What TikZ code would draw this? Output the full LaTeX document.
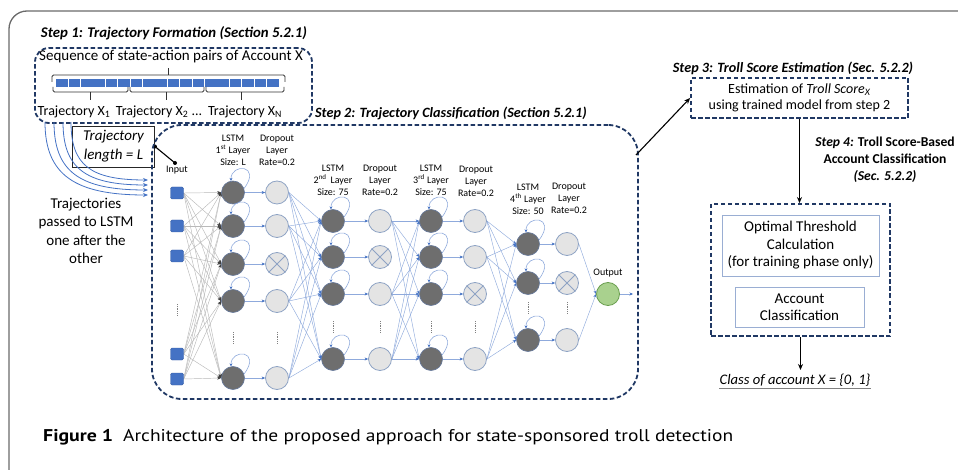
\documentclass[tikz,border=0pt]{standalone}
\usepackage{fontspec}
\setmainfont{Carlito}
\newfontfamily\capfont{PT Sans}
\usetikzlibrary{arrows.meta,calc}
\definecolor{navy}{HTML}{203864}
\definecolor{ofblue}{HTML}{4472C4}
\definecolor{lblue}{HTML}{8FAADC}
\definecolor{lstmfill}{HTML}{6E6E6E}
\definecolor{dropfill}{HTML}{E4E4E4}
\definecolor{dropborder}{HTML}{8EA3C4}
\definecolor{greenfill}{HTML}{A9D18E}
\definecolor{greenborder}{HTML}{6A9E4F}
\definecolor{framegray}{HTML}{6A6A6A}
\definecolor{innerbox}{HTML}{9AAED3}
\pgfdeclarelayer{bg}
\pgfsetlayers{bg,main}
\begin{document}
\begin{tikzpicture}[x=1pt,y=-1pt]
\tikzset{
 dashbox/.style={draw=navy, line width=1.8pt, dash pattern=on 4.5pt off 2.5pt},
 lstm/.style={circle, draw=lblue!70!black, line width=0.6pt, fill=lstmfill, minimum size=23pt, inner sep=0pt},
 drop/.style={circle, draw=dropborder, line width=0.8pt, fill=dropfill, minimum size=23pt, inner sep=0pt},
 inp/.style={rectangle, rounded corners=1.5pt, draw=ofblue!85!black, fill=ofblue, minimum width=13pt, minimum height=12pt, inner sep=0pt},
 outn/.style={circle, draw=greenborder, line width=0.8pt, fill=greenfill, minimum size=23pt, inner sep=0pt},
 gedge/.style={draw=gray!55, line width=0.45pt, -{Stealth[length=4pt,width=3pt,color=darkgray]}},
 bedge/.style={draw=lblue, line width=0.45pt, -{Stealth[length=3.5pt,width=3pt,color=ofblue]}},
 loopst/.style={draw=lblue, line width=0.6pt, -{Stealth[length=3pt,width=3pt,color=ofblue]}},
 lbl/.style={align=center, font=\fontsize{10}{12}\selectfont, inner sep=0pt},
 dotcol/.style={draw=gray, line width=0.9pt, dash pattern=on 0.7pt off 1.1pt},
 blk/.style={draw=black, line width=1.1pt, -{Stealth[length=6pt,width=5pt]}},
 curv/.style={draw=ofblue, line width=0.8pt, -{Stealth[length=5pt,width=4pt]}},
 brk/.style={draw=black!80, line width=0.8pt, rounded corners=1.5pt},
 ttl/.style={font=\fontsize{14.2}{16}\selectfont\bfseries\itshape, inner sep=0pt},
 dotend/.style={circle, fill=black, inner sep=0pt, minimum size=4pt},
 trj/.style={font=\fontsize{14}{17}\selectfont, inner sep=0pt},
}
\useasboundingbox (0,0) rectangle (958,470);
% outer frame
\draw[framegray, line width=1.3pt, rounded corners=18pt] (9,472) -- (9,11) -- (960,11);

% ---------- Step 1 ----------
\node[ttl, font=\fontsize{14.8}{16}\selectfont\bfseries\itshape] (t1) at (174,33) {Step 1: Trajectory Formation (Section 5.2.1)};
\node[dashbox, rounded corners=14pt, minimum width=277pt, minimum height=75pt] (s1) at (173.5,85.5) {};
\node[font=\fontsize{15}{18}\selectfont, inner sep=0pt] (seq) at (171,57) {Sequence of state-action pairs of Account X};
\foreach \k in {0,...,17}{
  \fill[ofblue] ({56.3+\k*12.39},79) rectangle ++(11.6,8.5);
}
\draw[brk] (52,82) -- (52,75) -- (285,75) -- (285,82);
\draw[brk] (168,75) -- (168,68);
\draw[brk] (53,87) -- (53,92) -- (128,92) -- (128,87);
\draw[brk] (90,92) -- (90,100);
\draw[brk] (130,87) -- (130,92) -- (204,92) -- (204,87);
\draw[brk] (166,92) -- (166,100);
\draw[brk] (206,87) -- (206,92) -- (284,92) -- (284,87);
\draw[brk] (241,92) -- (241,100);
\node[trj] (tx1) at (74,112) {Trajectory X\textsubscript{1}};
\node[trj] (tx2) at (159,112) {Trajectory X\textsubscript{2} ...};
\node[trj] (txn) at (245,112) {Trajectory X\textsubscript{N}};

% trajectory length box
\node[draw=black!85, line width=0.9pt, minimum width=82pt, minimum height=41pt, align=center,
      font=\fontsize{15}{19}\selectfont\itshape, inner sep=0pt] (len) at (113.5,146.5) {Trajectory\\length = L};
\coordinate (lenend) at (175,163);
\draw[line width=1.1pt] (len.east) -- (lenend);
\node[dotend] (d1) at (len.east) {};
\node[dotend] (d2) at (lenend) {};

% curved arrows
\coordinate (c1s) at (45,122); \coordinate (c1e) at (148,195);
\coordinate (c2s) at (54,122); \coordinate (c2e) at (148,190);
\coordinate (c3s) at (63,122); \coordinate (c3e) at (148,185);
\coordinate (c4s) at (71,122); \coordinate (c4e) at (148,180);
\draw[curv] (c1s) .. controls (45,175) and (75,195) .. (c1e);
\draw[curv] (c2s) .. controls (54,172) and (80,190) .. (c2e);
\draw[curv] (c3s) .. controls (63,168) and (85,185) .. (c3e);
\draw[curv] (c4s) .. controls (71,165) and (90,180) .. (c4e);

\node[align=center, font=\fontsize{15}{18.5}\selectfont, inner sep=0pt] (trajtxt) at (86,231)
  {Trajectories\\passed to LSTM\\one after the\\other};

% ---------- Step 2 ----------
\node[ttl] (t2) at (451,113) {Step 2: Trajectory Classification (Section 5.2.1)};
\node[dashbox, rounded corners=30pt, minimum width=486pt, minimum height=274pt] (s2) at (395,262) {};

% labels
\node[lbl] (lin) at (177,170) {Input};
\node[lbl] (l1) at (233,150) {LSTM\\1\textsuperscript{st} Layer\\Size: L};
\node[lbl] (ld1) at (277,150) {Dropout\\Layer\\Rate=0.2};
\node[lbl] (l2) at (333,180) {LSTM\\2\textsuperscript{nd}\, Layer\\Size: 75};
\node[lbl] (ld2) at (380,180) {Dropout\\Layer\\Rate=0.2};
\node[lbl] (l3) at (431,180) {LSTM\\3\textsuperscript{rd} Layer\\Size: 75};
\node[lbl] (ld3) at (476,181) {Dropout\\Layer\\Rate=0.2};
\node[lbl] (l4) at (528,199) {LSTM\\4\textsuperscript{th} Layer\\Size: 50};
\node[lbl] (ld4) at (569,198) {Dropout\\Layer\\Rate=0.2};
\node[lbl] (lout) at (608,273) {Output};

% nodes
\foreach \n/\y in {1/193,2/226,3/256,4/354,5/379}{\node[inp] (i\n) at (177,\y) {};}
\foreach \n/\y in {1/192.5,2/226,3/264,4/301,5/378}{
  \node[lstm] (a\n) at (233,\y) {};
  \node[drop] (b\n) at (277,\y) {};
}
\foreach \n/\y in {1/221,2/257,3/294,4/359}{
  \node[lstm] (c\n) at (333,\y) {};
  \node[drop] (d\n) at (380,\y) {};
  \node[lstm] (e\n) at (431,\y) {};
  \node[drop] (f\n) at (475,\y) {};
}
\foreach \n/\y in {1/244,2/283,3/340}{
  \node[lstm] (g\n) at (528,\y) {};
  \node[drop] (h\n) at (567,\y) {};
}
\node[outn] (o) at (608,294) {};
\coordinate (oend) at (633,294);
\draw[bedge] (o.east) -- (oend);

% crosses on dropped units
\foreach \nd in {b3,d2,f3,h2}{
  \draw[dropborder, line width=0.8pt] (\nd.45) -- (\nd.225) (\nd.135) -- (\nd.315);
}

% vertical dots
\draw[dotcol] (177,304) -- (177,316);
\draw[dotcol] (233,332) -- (233,344);
\draw[dotcol] (277,332) -- (277,344);
\draw[dotcol] (333,321) -- (333,333);
\draw[dotcol] (380,321) -- (380,333);
\draw[dotcol] (431,321) -- (431,333);
\draw[dotcol] (475,321) -- (475,333);
\draw[dotcol] (528,302) -- (528,314);
\draw[dotcol] (567,302) -- (567,314);

% edges
\begin{pgfonlayer}{bg}
\foreach \i in {1,...,5}{\foreach \j in {1,...,5}{\draw[gedge] (i\i.east) -- (a\j.west);}}
\foreach \i in {1,2,4,5}{\foreach \j in {1,...,4}{\draw[bedge] (b\i.east) -- (c\j.west);}}
\foreach \i in {1,3,4}{\foreach \j in {1,...,4}{\draw[bedge] (d\i.east) -- (e\j.west);}}
\foreach \i in {1,2,4}{\foreach \j in {1,2,3}{\draw[bedge] (f\i.east) -- (g\j.west);}}
\foreach \i in {1,3}{\draw[bedge] (h\i.east) -- (o.west);}
\foreach \k in {1,...,5}{\draw[bedge] (a\k.east) -- (b\k.west);}
\foreach \k in {1,...,4}{\draw[bedge] (c\k.east) -- (d\k.west); \draw[bedge] (e\k.east) -- (f\k.west);}
\foreach \k in {1,2,3}{\draw[bedge] (g\k.east) -- (h\k.west);}
\end{pgfonlayer}
% self loops
\foreach \nd in {a1,a2,a3,a4,a5,c1,c2,c3,c4,e1,e2,e3,e4,g1,g2,g3}{
  \draw[loopst] (\nd.20) .. controls +(18,-24) and +(0,-18) .. (\nd.100);
}

% ---------- Step 3 ----------
\node[ttl] (t3) at (793,68) {Step 3: Troll Score Estimation (Sec. 5.2.2)};
\node[dashbox, minimum width=217pt, minimum height=40pt, align=center,
      font=\fontsize{14}{16.5}\selectfont, inner sep=0pt] (s3) at (799.5,98)
  {Estimation of \textit{Troll Score}\textsubscript{\textit{X}}\\using trained model from step 2};
\coordinate (s2c) at (636,155);
\draw[blk] (s2c) -- (s3.west);

% ---------- Step 4 ----------
\node[align=center, font=\fontsize{13.6}{17}\selectfont\bfseries, inner sep=0pt] (t4) at (885,160)
  {\textit{Step 4:} Troll Score-Based\\Account Classification\\\textit{(Sec. 5.2.2)}};
\node[dashbox, minimum width=179pt, minimum height=132pt] (s4) at (800.5,270) {};
\draw[blk] (s3.south) -- (s3.south |- s4.north);
\node[draw=innerbox, line width=0.9pt, minimum width=157pt, minimum height=61pt, align=center,
      font=\fontsize{15}{17.5}\selectfont, inner sep=0pt] (opt) at (800.5,245.5)
  {Optimal Threshold\\Calculation\\(for training phase only)};
\node[draw=innerbox, line width=0.9pt, minimum width=129pt, minimum height=40pt, align=center,
      font=\fontsize{15}{17.5}\selectfont, inner sep=0pt] (acc) at (799.5,307)
  {Account\\Classification};
\node[font=\fontsize{14.6}{16}\selectfont\itshape, inner sep=0pt, anchor=north] (cls) at (795,374)
  {Class of account X = \{0, 1\}};
\draw[gray, line width=0.7pt] ($(cls.south west)+(0,1.5)$) -- ($(cls.south east)+(0,1.5)$);
\draw[blk] (s4.south) -- (s4.south |- 0,370);

% ---------- caption ----------
\node[anchor=west, inner sep=0pt, font=\capfont\fontsize{17}{20}\selectfont] (figl) at (43,437)
  {\resizebox{70pt}{\height}{\bfseries Figure 1}};
\node[anchor=west, inner sep=0pt, font=\capfont\fontsize{17}{20}\selectfont] (cap) at (123,437)
  {\resizebox{610pt}{\height}{Architecture of the proposed approach for state-sponsored troll detection}};
\end{tikzpicture}
\end{document}
